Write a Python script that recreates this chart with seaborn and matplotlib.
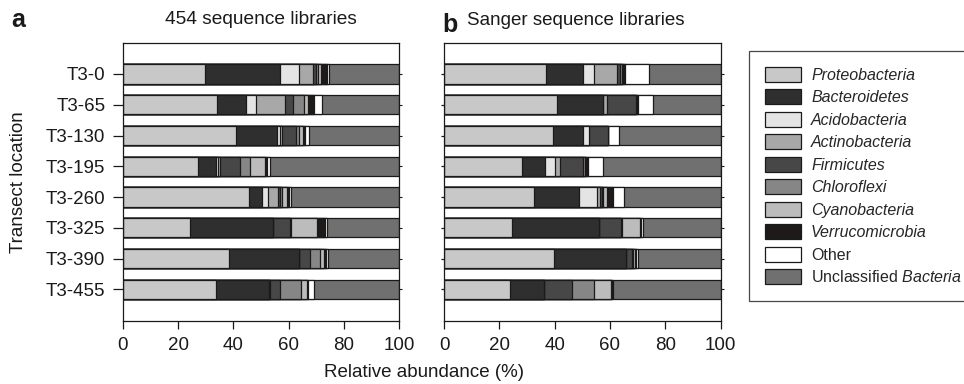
import numpy as np
import pandas as pd
import matplotlib
matplotlib.use("Agg")
import matplotlib.pyplot as plt
from matplotlib.patches import Patch
import seaborn as sns

# locations along the transect (rows) and phyla (stack order)
locations = ["T3-0", "T3-65", "T3-130", "T3-195", "T3-260", "T3-325", "T3-390", "T3-455"]
phyla = ["Proteobacteria", "Bacteroidetes", "Acidobacteria", "Actinobacteria", "Firmicutes",
         "Chloroflexi", "Cyanobacteria", "Verrucomicrobia", "Other", "Unclassified Bacteria"]
phyla_colors = ["#c8c8c8", "#2f2f2f", "#e4e4e4", "#a8a8a8", "#474747",
                "#868686", "#bcbcbc", "#1e1a1a", "#ffffff", "#707070"]

# relative abundance (%), one row per location
abund_454 = [
    [29.6, 27.4, 6.6, 5.1, 1.2, 0.7, 1.1, 2.0, 0.9, 25.4],
    [34.1, 10.6, 3.6, 10.2, 2.9, 4.1, 1.4, 2.2, 2.9, 28.0],
    [40.8, 15.0, 0.9, 1.0, 5.0, 1.0, 1.5, 0.7, 1.4, 32.7],
    [27.4, 6.4, 0.7, 0.8, 7.0, 3.6, 5.7, 0.6, 0.9, 46.9],
    [45.5, 4.9, 2.0, 3.6, 0.8, 0.8, 1.8, 0.7, 0.8, 39.1],
    [24.4, 29.8, 0.0, 0.0, 6.4, 0.3, 9.3, 3.0, 0.5, 26.3],
    [38.5, 25.1, 0.0, 0.0, 4.0, 3.9, 1.4, 0.7, 0.6, 25.8],
    [33.8, 19.0, 0.0, 0.4, 3.5, 7.8, 2.2, 0.4, 1.9, 31.0],
]
abund_sanger = [
    [36.9, 13.4, 3.9, 8.5, 0.8, 0.8, 0.4, 0.8, 8.5, 26.0],
    [41.0, 16.6, 0.0, 1.2, 10.7, 0.0, 0.0, 0.8, 5.3, 24.4],
    [39.3, 10.8, 2.4, 0.0, 6.9, 0.0, 0.0, 0.0, 3.9, 36.7],
    [28.1, 8.3, 3.9, 1.6, 8.4, 0.6, 0.5, 0.5, 5.7, 42.4],
    [32.6, 16.3, 6.5, 1.0, 0.6, 0.6, 1.4, 2.0, 3.9, 35.1],
    [24.6, 31.6, 0.0, 0.0, 7.7, 0.4, 6.6, 0.5, 0.4, 28.2],
    [39.8, 25.9, 0.0, 0.0, 2.2, 0.6, 0.6, 0.4, 0.5, 30.0],
    [23.7, 12.4, 0.0, 0.0, 10.3, 7.8, 6.1, 0.4, 0.5, 38.8],
]

sns.set_theme(style="ticks")
plt.rcParams["font.family"] = ["Liberation Sans", "DejaVu Sans"]
plt.rcParams["mathtext.fontset"] = "custom"
plt.rcParams["mathtext.rm"] = "Liberation Sans"
plt.rcParams["mathtext.it"] = "Liberation Sans:italic"

ink = "#1a1a1a"
fig = plt.figure(figsize=(9.64, 3.84), dpi=100)
ax_a = fig.add_axes([0.1273, 0.165, 0.2869, 0.724])
ax_b = fig.add_axes([0.4606, 0.165, 0.2869, 0.724])


def stacked(ax, table):
    df = pd.DataFrame(table, index=locations, columns=phyla)
    cum = df.cumsum(axis=1)
    # longest cumulative bar first, shorter ones drawn on top
    for i in range(len(phyla) - 1, -1, -1):
        sns.barplot(x=cum.iloc[:, i].values, y=locations, orient="h", ax=ax,
                    color=phyla_colors[i], saturation=1, width=0.63,
                    edgecolor=ink, linewidth=0.9)
    ax.set_xlim(0, 100)
    ax.set_ylim(8.02, -1.02)
    ax.set_xticks(range(0, 101, 20))
    ax.set_xlabel("")
    ax.set_ylabel("")
    ax.tick_params(axis="x", direction="out", length=5.5, width=0.9, pad=6,
                   labelsize=13.5, colors=ink)
    ax.tick_params(axis="y", direction="out", length=7.5, width=0.9, pad=5,
                   labelsize=13.5, colors=ink)
    for s in ax.spines.values():
        s.set_linewidth(0.9)
        s.set_color(ink)


stacked(ax_a, abund_454)
stacked(ax_b, abund_sanger)
ax_b.tick_params(axis="y", labelleft=False, length=2.5)

# tiny ticks on the right edge of each panel
for ax in (ax_a, ax_b):
    sec = ax.secondary_yaxis("right")
    sec.set_yticks(range(len(locations)))
    sec.tick_params(length=2, width=0.8, labelright=False, colors=ink)
    sec.spines["right"].set_visible(False)

ax_a.set_ylabel("Transect location", fontsize=13.5, color=ink)
ax_a.yaxis.set_label_coords(-0.346, 0.5)
fig.text(0.44, 0.029, "Relative abundance (%)", ha="center", va="center",
         fontsize=13.5, color=ink)

fig.text(0.012, 0.947, "a", fontsize=18, fontweight="bold", va="center", color=ink)
fig.text(0.2708, 0.948, "454 sequence libraries", ha="center", va="center",
         fontsize=13.8, color=ink)
fig.text(0.459, 0.935, "b", fontsize=18, fontweight="bold", va="center", color=ink)
fig.text(0.4844, 0.946, "Sanger sequence libraries", va="center", fontsize=13.5, color=ink)

handles = [Patch(facecolor=c, edgecolor=ink, linewidth=0.9) for c in phyla_colors]
labels = phyla[:-1] + ["Unclassified $\\it{Bacteria}$"]
leg = fig.legend(handles, labels, loc="upper left", bbox_to_anchor=(0.777, 0.868),
                 fontsize=11.5, frameon=True, fancybox=False, edgecolor=ink,
                 handlelength=2.28, handleheight=1.1, handletextpad=0.6,
                 labelspacing=0.4, borderpad=1.0, borderaxespad=0)
leg.get_frame().set_linewidth(0.9)
for t in leg.get_texts()[:8]:
    t.set_fontstyle("italic")

fig.savefig("out.png", dpi=100)
